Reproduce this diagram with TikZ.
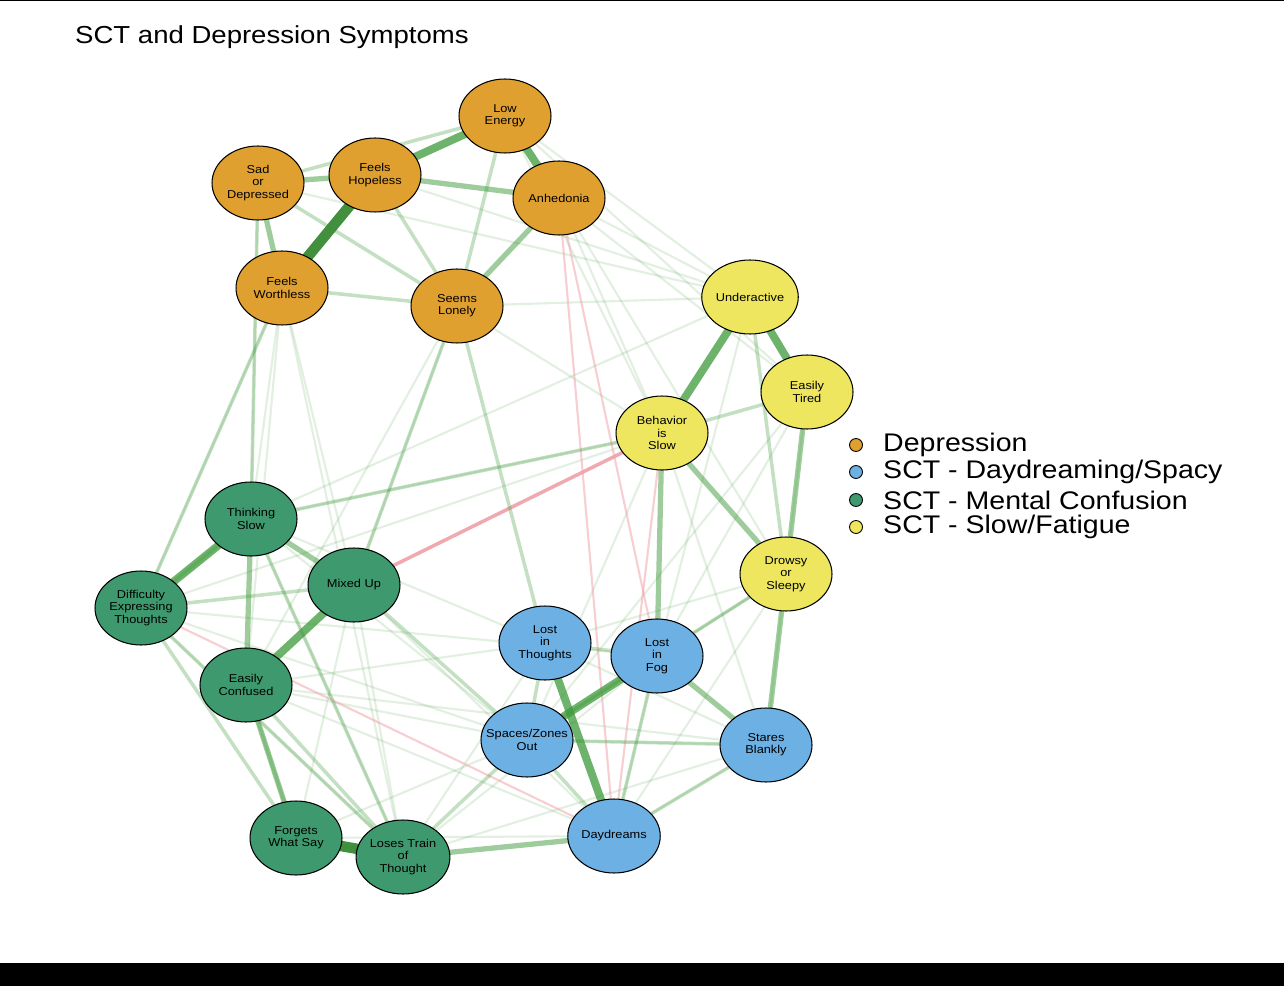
\documentclass[tikz,border=0pt]{standalone}
\usepackage{fontspec}
\setmainfont{Liberation Sans}[FakeStretch=1.12]
\usetikzlibrary{shapes.geometric}
\definecolor{dep}{HTML}{E0A030}
\definecolor{slow}{HTML}{EDE65E}
\definecolor{conf}{HTML}{3E9A6E}
\definecolor{day}{HTML}{6CB0E4}
\definecolor{eg}{HTML}{3E9A3A}
\definecolor{er}{HTML}{F0A0A8}
\tikzset{
 nd/.style={ellipse,draw=black,line width=0.6pt,minimum width=1.84cm,minimum height=1.48cm,inner sep=0pt,align=center,font=\fontsize{6.5}{7}\selectfont},
 D/.style={nd,fill=dep}, Y/.style={nd,fill=slow}, G/.style={nd,fill=conf}, B/.style={nd,fill=day},
 w1/.style={draw=eg,opacity=0.15,line width=1.2pt},
 w2/.style={draw=eg,opacity=0.3,line width=2pt},
 w3/.style={draw=eg,opacity=0.5,line width=3pt},
 w4/.style={draw=eg,opacity=0.75,line width=4.5pt},
 w5/.style={draw=eg!90!black,opacity=0.95,line width=6pt},
 r1/.style={draw=er,opacity=0.5,line width=1.2pt},
 r2/.style={draw=er,opacity=0.9,line width=2pt},
 lg/.style={circle,draw=black,line width=0.5pt,minimum size=0.26cm,inner sep=0pt},
 lt/.style={anchor=west,font=\fontsize{14.5}{16}\selectfont}
}
\begin{document}
\begin{tikzpicture}[x=0.02cm,y=-0.02cm]
\useasboundingbox (0,0) rectangle (1284,986);
\fill[white] (0,0) rectangle (1284,986);
\fill[black] (0,963) rectangle (1284,986);
\draw[black,line width=1pt] (0,0.5) -- (1284,0.5);
\node[anchor=west,font=\fontsize{14}{16}\selectfont] (title) at (69,37) {SCT and Depression Symptoms};
% coordinates
\coordinate (pLE) at (505,116); \coordinate (pSD) at (258,183); \coordinate (pFH) at (375,175);
\coordinate (pAN) at (559,198); \coordinate (pFW) at (282,288); \coordinate (pSL) at (457,306);
\coordinate (pUA) at (750,297); \coordinate (pET) at (807,392); \coordinate (pBS) at (662,433);
\coordinate (pDS) at (786,574); \coordinate (pTS) at (251,519); \coordinate (pMU) at (354,585);
\coordinate (pDE) at (141,608); \coordinate (pEC) at (246,685); \coordinate (pLT) at (545,643);
\coordinate (pLF) at (657,656); \coordinate (pSZ) at (527,740); \coordinate (pSB) at (766,745);
\coordinate (pDD) at (614,836); \coordinate (pFS) at (296,838); \coordinate (pLO) at (403,857);
% faint edges
\foreach \a/\b in {LE/UA,LE/ET,LE/BS,AN/UA,AN/ET,AN/BS,AN/DS,FW/DE,FW/TS,FW/MU,FW/LO,SL/MU,SL/BS,SL/UA,SL/EC,SD/UA,FH/UA,
 UA/TS,UA/LF,ET/LF,ET/SB,ET/SZ,BS/TS,BS/DE,BS/SZ,BS/SB,DS/LT,DS/DD,DS/SZ,
 TS/LT,TS/SZ,TS/LO,MU/LO,MU/FS,MU/DD,DE/LF,DE/LO,DE/SZ,EC/SZ,EC/LT,EC/DD,EC/SB,FS/SZ,FS/DD,LO/LT,LO/LF,LO/SB,SZ/SB,LT/SB,DD/LF,DD/SB,DS/LF,FW/EC,SD/TS}
 {\draw[w1] (p\a) -- (p\b);}
\foreach \a/\b in {AN/DD,BS/DD,DE/DD}{\draw[r1] (p\a) -- (p\b);}
\draw[r2] (pBS) -- (pMU);
\draw[r1] (pAN) -- (pLF);
% medium edges
\foreach \a/\b in {SD/LE,SD/SL,FW/SL,FH/SL,LE/SL,FW/DE,SD/TS,SL/LT,SL/MU,ET/BS,BS/TS,TS/DE,DE/MU,DE/FS,DE/LO,EC/FS,MU/SZ,TS/LO,FS/LO,LT/SZ,LT/LF,LF/SZ,SZ/SB,LF/DD,LO/SZ,SB/DD,DS/LF,UA/DS,EC/LO,SZ/DD}
 {\draw[w2] (p\a) -- (p\b);}
\foreach \a/\b in {SD/FH,FH/AN,BS/DS,ET/DS,DS/SB,BS/LF,TS/MU,TS/EC,LO/DD,EC/FS,LF/SB,SD/FW,AN/SL}
 {\draw[w3] (p\a) -- (p\b);}
\foreach \a/\b in {LE/FH,LE/AN,UA/ET,UA/BS,TS/DE,MU/EC,LT/DD,LF/SZ}
 {\draw[w4] (p\a) -- (p\b);}
\draw[w5] (pFH) -- (pFW);
\draw[w5] (pFS) -- (pLO);
% nodes
\node[D] (LE) at (pLE) {Low\\Energy};
\node[D] (SD) at (pSD) {Sad\\or\\Depressed};
\node[D] (FH) at (pFH) {Feels\\Hopeless};
\node[D] (AN) at (pAN) {Anhedonia};
\node[D] (FW) at (pFW) {Feels\\Worthless};
\node[D] (SL) at (pSL) {Seems\\Lonely};
\node[Y] (UA) at (pUA) {Underactive};
\node[Y] (ET) at (pET) {Easily\\Tired};
\node[Y] (BS) at (pBS) {Behavior\\is\\Slow};
\node[Y] (DS) at (pDS) {Drowsy\\or\\Sleepy};
\node[G] (TS) at (pTS) {Thinking\\Slow};
\node[G] (MU) at (pMU) {Mixed Up};
\node[G] (DE) at (pDE) {Difficulty\\Expressing\\Thoughts};
\node[G] (EC) at (pEC) {Easily\\Confused};
\node[G] (FS) at (pFS) {Forgets\\What Say};
\node[G] (LO) at (pLO) {Loses Train\\of\\Thought};
\node[B] (LT) at (pLT) {Lost\\in\\Thoughts};
\node[B] (LF) at (pLF) {Lost\\in\\Fog};
\node[B,ellipse,minimum width=1.84cm,inner xsep=-6pt] (SZ) at (pSZ) {Spaces/Zones\\Out};
\node[B] (SB) at (pSB) {Stares\\Blankly};
\node[B] (DD) at (pDD) {Daydreams};
% legend
\node[lg,fill=dep] (l1) at (856,445) {}; \node[lt] (t1) at (877,445) {Depression};
\node[lg,fill=day] (l2) at (856,472) {}; \node[lt] (t2) at (877,472) {SCT - Daydreaming/Spacy};
\node[lg,fill=conf] (l3) at (856,500) {}; \node[lt] (t3) at (877,500) {SCT - Mental Confusion};
\node[lg,fill=slow] (l4) at (856,527) {}; \node[lt] (t4) at (877,527) {SCT - Slow/Fatigue};
\end{tikzpicture}
\end{document}
